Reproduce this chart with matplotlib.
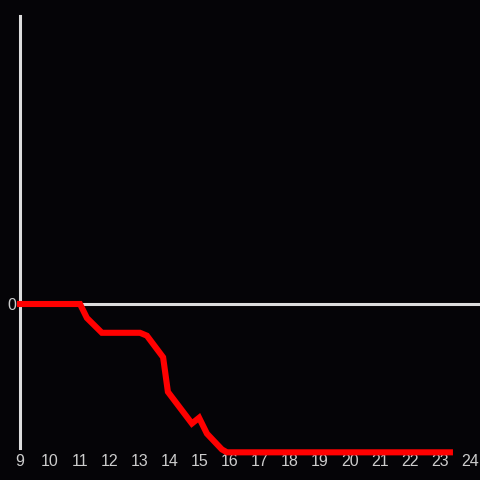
import matplotlib
matplotlib.use("Agg")
import matplotlib.pyplot as plt

# curve (hour vs value)
hours = [9, 11, 11.23, 11.73, 13, 13.23, 13.77, 13.93, 14.73, 14.97, 15.23, 15.73, 15.9, 23.33]
values = [0, 0, -0.097, -0.2, -0.2, -0.22, -0.37, -0.61, -0.83, -0.79, -0.9, -1.01, -1.03, -1.03]
xticks = list(range(9, 25))

bg = "#050407"
fg = "#dddddd"

fig = plt.figure(figsize=(4.8, 4.8), dpi=100, facecolor=bg)
ax = fig.add_axes([20 / 480, 32 / 480, 460 / 480, 432 / 480], facecolor=bg)

ax.axhline(0, color=fg, lw=2.2, zorder=1)
ax.plot(hours, values, color="#ff0000", lw=4.4, solid_joinstyle="miter",
        solid_capstyle="projecting", clip_on=False, zorder=3)

ax.set_xlim(9, 24 + 1 / 3)
ax.set_ylim(-1, 2)
ax.set_xticks(xticks)
ax.set_yticks([0])
ax.set_yticklabels(["0"])

for s in ("top", "right", "bottom"):
    ax.spines[s].set_visible(False)
ax.spines["left"].set_color(fg)
ax.spines["left"].set_linewidth(2.2)
ax.tick_params(length=0, colors="#cccccc", labelsize=11.5)
ax.tick_params(axis="x", pad=4.5)
ax.tick_params(axis="y", pad=3)
for lab in ax.get_xticklabels() + ax.get_yticklabels():
    lab.set_fontfamily("Liberation Sans")

fig.savefig("out.png", dpi=100, facecolor=bg)
